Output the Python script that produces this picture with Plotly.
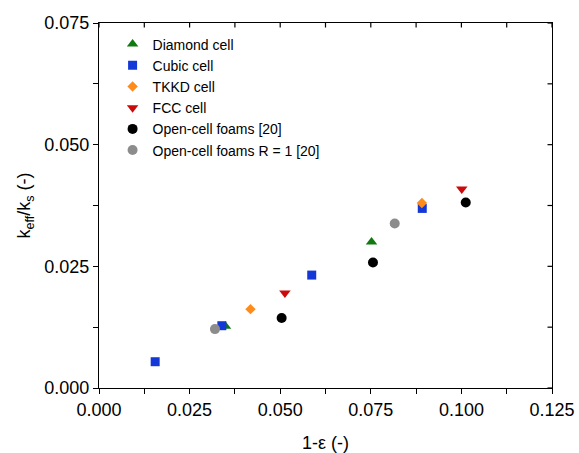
import plotly.graph_objects as go

# Data
diamond_x = [0.0349, 0.0752]
diamond_y = [0.0127, 0.0300]
cubic_x = [0.0155, 0.0339, 0.0587, 0.0892]
cubic_y = [0.0054, 0.0128, 0.0232, 0.0369]
tkkd_x = [0.0418, 0.0891]
tkkd_y = [0.0162, 0.0380]
fcc_x = [0.0513, 0.1001]
fcc_y = [0.0195, 0.0409]
foam_x = [0.0504, 0.0756, 0.1012]
foam_y = [0.0144, 0.0258, 0.0381]
foamR_x = [0.0320, 0.0816]
foamR_y = [0.0121, 0.0338]

x_ticks = [0, 0.0125, 0.025, 0.0375, 0.05, 0.0625, 0.075, 0.0875, 0.1, 0.1125, 0.125]
x_tick_text = ["0.000", "", "0.025", "", "0.050", "", "0.075", "", "0.100", "", "0.125"]
y_ticks = [0, 0.0125, 0.025, 0.0375, 0.05, 0.0625, 0.075]
y_tick_text = ["0.000", "", "0.025", "", "0.050", "", "0.075"]

series = [
    ("Diamond cell", diamond_x, diamond_y, "triangle-up", "#107a10", 10),
    ("Cubic cell", cubic_x, cubic_y, "square", "#1438d8", 9),
    ("TKKD cell", tkkd_x, tkkd_y, "diamond", "#ff8c1a", 8),
    ("FCC cell", fcc_x, fcc_y, "triangle-down", "#cc0a0a", 10),
    ("Open-cell foams [20]", foam_x, foam_y, "circle", "#000000", 10),
    ("Open-cell foams R = 1 [20]", foamR_x, foamR_y, "circle", "#8c8c8c", 10),
]

fig = go.Figure()
for name, xs, ys, sym, col, sz in series:
    fig.add_trace(go.Scatter(x=xs, y=ys, mode="markers", name=name,
                             marker=dict(symbol=sym, color=col, size=sz, line=dict(width=0))))

font = dict(family="Arial, Liberation Sans, sans-serif", color="#000000")

fig.update_layout(
    width=579, height=453,
    margin=dict(l=99, r=27, t=23, b=65),
    paper_bgcolor="#ffffff", plot_bgcolor="#ffffff",
    font=dict(size=18, **font),
    showlegend=True,
    xaxis=dict(range=[0, 0.125], tickmode="array", tickvals=x_ticks, ticktext=x_tick_text,
               showgrid=False, zeroline=False, showline=True, linecolor="#000", linewidth=1.2,
               mirror=True, automargin=False,
               ticks="outside", ticklen=5, tickwidth=1.2, tickcolor="#000",
               title=dict(text="1-ε (-)", font=dict(size=18), standoff=20),
               tickfont=dict(size=18)),
    yaxis=dict(range=[0, 0.075], tickmode="array", tickvals=y_ticks, ticktext=y_tick_text,
               showgrid=False, zeroline=False, showline=True, linecolor="#000", linewidth=1.2,
               mirror=True, automargin=False,
               ticks="outside", ticklen=5, tickwidth=1.2, tickcolor="#000",
               title=dict(text="k<sub>eff</sub>/k<sub>s</sub> (-)", font=dict(size=18), standoff=8),
               tickfont=dict(size=18)),
    legend=dict(x=0.03, y=0.985, xanchor="left", yanchor="top", bgcolor="rgba(0,0,0,0)",
                font=dict(size=14, **font), tracegroupgap=0),
)

# inside ticks on top and right edges, from the tick arrays
plot_w = 579 - 99 - 27
plot_h = 453 - 23 - 65
for v in x_ticks:
    fig.add_shape(type="line", xref="x", yref="paper", x0=v, x1=v, y0=1, y1=1 - 4.5 / plot_h,
                  line=dict(color="#000", width=1.2), layer="above")
for v in y_ticks:
    fig.add_shape(type="line", xref="paper", yref="y", x0=1, x1=1 - 4.5 / plot_w, y0=v, y1=v,
                  line=dict(color="#000", width=1.2), layer="above")

fig.write_html("out.html")
